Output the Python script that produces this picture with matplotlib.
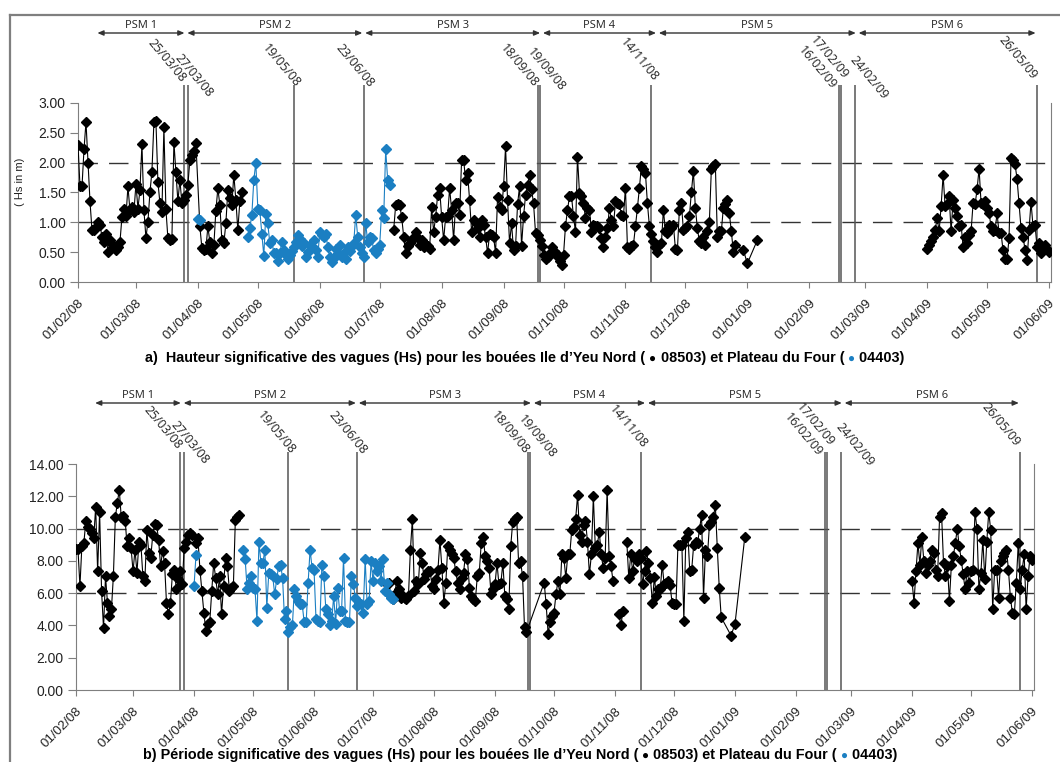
import matplotlib
matplotlib.use("Agg")
import matplotlib.pyplot as plt
import matplotlib.dates as mdates
from matplotlib.lines import Line2D
from matplotlib.offsetbox import TextArea, HPacker, AnchoredOffsetbox
import numpy as np
import pandas as pd

nan = np.nan

# ------------------------------------------------------------
# DATA : runs of daily values (start date, values); nan = break
# ------------------------------------------------------------

# Hs (m) - bouée Ile d'Yeu Nord 08503
hs_yeu = [
    ("2008-02-01", [2.30, 1.60, 1.60, 2.22, 2.68, 2.00, 1.35, 0.87, 0.87, 0.92,
                    1.00, 0.95, 0.76, 0.67, 0.81, 0.50, 0.70, 0.63, 0.59, 0.53,
                    0.58, 0.67, 1.09, 1.22, 1.10, 1.60, 1.20, 1.26, 1.18, 1.64,
                    1.23, 1.54, 2.31, 1.20, 0.74, 1.01, 1.50, 1.85, 2.68, 2.69,
                    1.68, 1.32, 1.18, 2.59, 1.22, 0.73, 0.70, 0.72, 2.34, 1.85,
                    1.35, 1.71, 1.32, 1.38, 1.46, 1.63, 2.05, 2.13, 2.19, 2.33]),
    ("2008-04-02", [0.93, 0.57, 0.53, 0.55, 0.93, 0.67, 0.48, 0.62, 1.19, 1.57,
                    1.29, 0.70, 0.65, 0.98, 1.54, 1.40, 1.29, 1.80, 1.37, 0.87,
                    1.35, 1.51, nan]),
    ("2008-07-08", [0.87, 1.29, 1.30, 1.29, 1.09, 0.76, 0.48, 0.60, 0.65, 0.70,
                    0.76, 0.84, 0.73, 0.62, 0.70, 0.59, 0.62, 0.60, 0.56, 1.26,
                    0.84, 1.09, 1.46, 1.57, 1.09, 0.70, 1.09, 1.10, 1.57, 1.21,
                    0.70, 1.32, 1.32, 1.12, 2.05, 2.05, 1.71, 1.82, 1.37, 0.84,
                    1.04, 0.98, 0.90, 0.76, 1.04, 0.96, 0.76, 0.48, 0.81, 0.79,
                    0.76, 0.48, 1.43, 1.26, 1.21, 1.60, 2.27, 1.37, 0.65, 0.98,
                    0.53, 0.60, 1.30, 1.60, 0.60, 1.10, 1.45, 1.62,
                    1.80, 1.55, 1.32, 0.82, 0.79, 0.70, 0.60, 0.45, 0.39, 0.42,
                    0.48, 0.59, 0.52, 0.45, 0.45, 0.36, 0.28,
                    0.45, 0.94, 1.20, 1.44, 1.44, 1.10, 0.84, 2.10,
                    1.49, 1.44, 1.32, 1.07, 1.24, 1.21, 0.84, 0.96, 0.93, 0.93,
                    0.90, 0.73, 0.59, 0.76, 0.90, 1.24, 1.04, 0.93, 1.35, 1.32,
                    1.30, 1.13, 1.10, 1.58,
                    0.59, 0.56, 0.60, 0.62, 0.93, 1.24, 1.58, 1.94, 1.89, 1.83,
                    1.32, 0.93, 0.80, 0.68, 0.58, 0.51, 0.62, 0.65, 1.21,
                    0.85, 0.82, 0.96, 0.90, 0.96, 0.56, 0.53, 1.21, 1.32, 0.87,
                    0.90, 0.93, 1.10, 1.50, 1.86,
                    1.24, 0.90, 0.68, 0.65, 0.76, 0.62, 0.85, 1.00, 1.89, 1.94,
                    1.97,
                    0.76, 0.85, 0.85, 1.24, 1.30, 1.38, 1.15, 0.85, 0.51, 0.62]),
    ("2008-12-30", [0.54]),
    ("2009-01-01", [0.31]),
    ("2009-01-06", [0.70, nan]),
    ("2009-04-01", [0.56, 0.62, 0.68, 0.76, 0.87, 1.07, 0.85, 1.27, 1.79, 1.27,
                    1.30, 1.44, 0.85, 1.38, 1.24, 1.10, 0.93, 0.96, 0.59, 0.76,
                    0.65, 0.79, 0.85, 1.32, 1.30, 1.55, 1.90, 1.32, 1.30, 1.35,
                    1.24, 1.15, 0.93, 0.85, 0.87, 1.15, 0.82, 0.82, 0.53, 0.39,
                    0.39, 0.73, 2.08, 2.05, 1.97, 1.73, 1.32, 0.90, 0.76, 0.54,
                    0.37, 0.87, 1.34, 0.93, 0.96, 0.59, 0.65, 0.48, 0.58, 0.62,
                    0.55, 0.50]),
]

# Hs (m) - bouée Plateau du Four 04403
hs_four = [
    ("2008-04-01", [1.06, 1.04, nan]),
    ("2008-04-26", [0.76, 0.90, 1.12, 1.71, 2.00, 1.23, 1.20, 0.81, 0.44, 1.14,
                    0.98, 0.65, 0.70, 0.48, 0.48, 0.36, 0.48, 0.67, 0.53, 0.45,
                    0.39, 0.45, 0.52, 0.59, 0.67, 0.79, 0.72, 0.60, 0.65, 0.42,
                    0.50, 0.62, 0.59, 0.70, 0.53, 0.42, 0.84, 0.78, 0.76, 0.81,
                    0.59, 0.42, 0.34, 0.40, 0.55, 0.48, 0.62, 0.42, 0.48, 0.39,
                    0.59, 0.52, 0.60, 0.65, 1.12, 0.76, 0.59, 0.48, 0.42, 0.98,
                    0.67, 0.76, 0.73, 0.53, 0.48, 0.55, 0.62, 1.20, 1.07, 2.22,
                    1.71, 1.63]),
]

# Tp (s) - bouée Ile d'Yeu Nord 08503
tp_yeu = [
    ("2008-02-01", [8.73, 8.73, 6.44, 8.94, 9.10, 10.5, 10.1, 10.0, 9.7, 9.4,
                    11.35, 7.36, 11.04, 6.13, 3.82, 7.05, 5.42, 4.6, 5.0, 7.05,
                    10.7, 11.6, 12.4, 10.7, 10.8, 10.5, 8.9, 9.4, 8.8, 7.36,
                    8.7, 7.26, 9.2, 9.0, 7.05, 6.75, 9.9, 8.5, 8.2, 9.6,
                    10.3, 10.2, 9.3, 7.67, 8.6, 7.9, 5.4, 4.7, 5.4, 7.16,
                    7.46, 6.24, 6.85, 7.36, 6.54, 8.8, 9.2, 9.6, 9.7, 9.6]),
    ("2008-04-02", [9.1, 9.4, 7.46, 6.13, 4.8, 3.68, 4.1, 4.2, 6.13, 7.87,
                    6.95, 5.93, 7.05, 4.7, 6.44, 8.2, 7.67, 6.13, 6.34, 6.44,
                    10.53, 10.7, 10.83, nan]),
    ("2008-07-08", [6.54, 6.65, 5.83, 5.63, 5.93, 6.75, 6.24, 5.73, 5.83, 5.73,
                    5.63, 5.83, 8.7, 10.6, 6.13, 6.75, 6.54, 8.5, 7.87, 6.85,
                    7.16, 7.36, 7.36, 6.44, 6.24, 6.85, 7.46, 9.3, 7.57, 5.42,
                    6.65, 8.9, 8.7, 8.4, 8.2, 7.36, 6.65, 6.24, 6.95, 7.26,
                    8.4, 8.1, 6.34, 5.83, 5.63, 5.52, 7.05, 7.26, 9.1, 9.5,
                    8.3, 7.97, 7.57, 5.93, 6.24, 6.54, 7.87, 6.54, 6.65, 7.87,
                    5.83, 5.63, 5.0, 8.9, 10.43, 10.6, 10.74, 7.87, 7.97, 7.05,
                    3.88, 3.58]),
    ("2008-09-26", [6.65, 5.3, 3.5, 4.2, 4.6, 4.8, 5.93, 6.75, 5.93, 8.4,
                    8.2, 6.95, 8.4, 8.4, 9.9, 10.1,
                    10.6, 12.1, 9.6, 9.2, 10.2, 10.5, 9.2, 7.16, 8.4, 12.0,
                    8.8, 9.0, 9.8, 8.4, 7.57, 8.2, 12.4, 8.3, 7.67, 6.75, nan]),
    ("2008-11-03", [4.7, 4.0, 4.9, nan]),
    ("2008-11-07", [9.2, 6.95, 8.4, 7.36, 8.2, 8.0, 8.4, 8.2, 6.54, 7.36,
                    8.6, 7.87, 6.95, 5.42, 7.0, 5.83, 6.24, 6.24,
                    7.77, 6.54, 6.65, 6.75, 6.5, 5.42, 5.35, 5.3, 9.0, 9.0,
                    9.0, 4.3, 9.4, 9.8, 7.36, 7.46, 9.0, 9.2, 9.1, 10.0,
                    10.84,
                    5.73, 8.7, 8.3, 10.2, 10.4, 10.7, 11.45, 8.8, 6.34, 4.5]),
    ("2008-12-30", [3.37]),
    ("2009-01-01", [4.1]),
    ("2009-01-06", [9.5, nan]),
    ("2009-04-01", [6.75, 5.42, 7.36, 9.1, 7.77, 9.5, 8.0, 7.26, 7.77, 7.97,
                    8.7, 8.5, 7.46, 7.05, 10.74, 10.94, 7.87, 7.05, 7.67, 5.52,
                    7.77, 8.3, 9.1, 10.0, 8.9, 8.08, 7.16, 6.24, 7.36, 6.65,
                    7.36, 7.46, 11.04, 10.0, 6.24, 7.26, 9.3, 6.85, 9.2, 11.04,
                    9.9, 5.0, 7.46, 7.46, 5.73, 7.97, 8.3, 8.5, 8.7, 7.46,
                    5.73, 4.8, 4.7, 6.65, 9.1, 6.24, 7.46, 8.4, 5.0, 7.05,
                    8.3, 8.08]),
]

# Tp (s) - bouée Plateau du Four 04403
tp_four = [
    ("2008-04-01", [6.44, 8.35, nan]),
    ("2008-04-26", [8.7, 8.1, 6.24, 6.65, 7.05, 6.34, 6.24, 4.3, 9.2, 7.87,
                    7.87, 8.7, 5.1, 7.26, 7.16, 7.05, 5.93, 6.85, 7.67, 7.77,
                    6.95, 4.4, 4.9, 3.58, 3.89, 4.0, 6.24, 5.83, 5.5, 5.3,
                    5.3, 4.2, 4.2, 6.65, 8.7, 7.57, 7.46, 4.4, 4.3, 4.2,
                    7.77, 7.05, 5.0, 4.7, 4.0, 4.3, 5.83, 4.1, 6.34, 4.9,
                    4.9, 8.2, 4.3, 4.2, 4.2, 7.05, 6.54, 5.73, 5.2, 5.4,
                    5.3, 4.8, 8.1, 5.3, 5.5, 7.97, 6.75, 7.87, 7.36, 7.67,
                    6.75, 8.1, 6.13, 6.65, 5.93, 5.73, 5.63]),
]

psm_names = ["PSM 1", "PSM 2", "PSM 3", "PSM 4", "PSM 5", "PSM 6"]
psm_bounds = ["2008-02-10", "2008-03-26", "2008-06-23", "2008-09-20",
              "2008-11-17", "2009-02-25", "2009-05-26"]

event_dates = ["2008-03-25", "2008-03-27", "2008-05-19", "2008-06-23",
               "2008-09-18", "2008-09-19", "2008-11-14", "2009-02-16",
               "2009-02-17", "2009-02-24", "2009-05-26"]
event_labels = ["25/03/08", "27/03/08", "19/05/08", "23/06/08", "18/09/08",
                "19/09/08", "14/11/08", "16/02/09", "17/02/09", "24/02/09",
                "26/05/09"]

hs_guides = [1.0, 2.0]
tp_guides = [6.0, 10.0]

caption_a = ["a)  Hauteur significative des vagues (Hs) pour les bouées Ile d’Yeu Nord ( ",
             "●", " 08503) et Plateau du Four ( ", "●", " 04403)"]
caption_b = ["b) Période significative des vagues (Hs) pour les bouées Ile d’Yeu Nord ( ",
             "●", " 08503) et Plateau du Four ( ", "●", " 04403)"]

# ------------------------------------------------------------
# STYLE
# ------------------------------------------------------------
W, H = 1060, 762
BLUE = "#1b7fc2"
GREY = "#7f7f7f"
# label end offsets from the top of each event line, in pixels (right, down)
event_nudge = [(-3, -2), (20, 13), (2, 3), (5, 3), (-4, 3), (21, 7),
               (2, -3), (-8, 5), (2, -5), (28, 15), (-5, -5)]
HEAD_FONT = ["Open Sans", "DejaVu Sans"]
CAP_FONT = ["Liberation Sans", "DejaVu Sans"]
plt.rcParams["font.family"] = ["Liberation Sans", "DejaVu Sans"]


def expand(runs):
    xs, ys = [], []
    for start, vals in runs:
        xs.extend(pd.date_range(start, periods=len(vals), freq="D"))
        ys.extend(vals)
    return xs, ys


def px_axes(left, right, top, bottom):
    return [left / W, 1 - bottom / H, (right - left) / W, (bottom - top) / H]


def draw_panel(ax, series, ymax, ytop, yticks, guides, head_y):
    for runs, col in series:
        xs, ys = expand(runs)
        ax.plot(xs, ys, color=col, lw=0.8, marker="D", ms=4.8,
                mfc=col, mec=col, zorder=3)

    ax.set_xlim(pd.Timestamp("2008-02-01"), pd.Timestamp("2009-06-02"))
    ax.set_ylim(0, ytop)
    ax.set_yticks(yticks)
    ax.yaxis.set_major_formatter(matplotlib.ticker.FormatStrFormatter("%.2f"))
    ax.xaxis.set_major_locator(mdates.MonthLocator(bymonthday=1))
    ax.xaxis.set_major_formatter(mdates.DateFormatter("%d/%m/%y"))

    ax.spines["top"].set_visible(False)
    for side in ["left", "right"]:
        ax.spines[side].set_bounds(0, ymax)
        ax.spines[side].set_color(GREY)
    ax.spines["bottom"].set_color(GREY)
    ax.set_facecolor("none")

    ax.tick_params(axis="y", length=6, color=GREY, labelsize=10, pad=3,
                   labelcolor="#222222")
    ax.tick_params(axis="x", length=4, color=GREY, labelsize=9.5, pad=7,
                   labelcolor="#222222")
    for lbl in ax.get_xticklabels():
        lbl.set_rotation(45)
        lbl.set_ha("right")
        lbl.set_rotation_mode("anchor")

    for g in guides:
        ax.axhline(g, color="#333333", lw=1.0, dashes=(14, 8), zorder=1)

    for d, lab, (dx, dy) in zip(event_dates, event_labels, event_nudge):
        ax.axvline(pd.Timestamp(d), color="#555555", lw=1.1, zorder=2)
        ax.annotate(lab, xy=(pd.Timestamp(d), 1), xycoords=("data", "axes fraction"),
                    xytext=(dx * 0.72, -dy * 0.72), textcoords="offset points",
                    rotation=-50, rotation_mode="anchor", ha="right", va="baseline",
                    fontsize=9, family=HEAD_FONT, color="#222222",
                    annotation_clip=False)

    # PSM periods with double arrows
    bounds = [pd.Timestamp(b) for b in psm_bounds]
    for i, name in enumerate(psm_names):
        a, b = bounds[i], bounds[i + 1]
        ax.annotate("", xy=(b, H - head_y), xytext=(a, H - head_y),
                    xycoords=("data", "figure pixels"),
                    textcoords=("data", "figure pixels"),
                    arrowprops=dict(arrowstyle="<|-|>,head_length=0.35,head_width=0.15",
                                    lw=1.0, color="#333333", shrinkA=1, shrinkB=1),
                    annotation_clip=False)
        ax.annotate(name, xy=(a + (b - a) / 2, H - head_y + 8),
                    xycoords=("data", "figure pixels"), ha="center", va="center",
                    fontsize=8, family=HEAD_FONT, color="#222222",
                    annotation_clip=False)


def caption(fig, parts, cx, cy):
    cols = ["black", "black", "black", BLUE, "black"]
    sizes = [10.4, 8.5, 10.4, 8.5, 10.4]
    boxes = [TextArea(p, textprops=dict(color=c, fontsize=s, fontweight="bold",
                                        family=CAP_FONT))
             for p, c, s in zip(parts, cols, sizes)]
    pack = HPacker(children=boxes, align="baseline", pad=0, sep=0)
    anch = AnchoredOffsetbox(loc="center", child=pack, pad=0, borderpad=0,
                             frameon=False, bbox_to_anchor=(cx / W, 1 - cy / H),
                             bbox_transform=fig.transFigure)
    fig.add_artist(anch)


fig = plt.figure(figsize=(W / 100, H / 100), dpi=100)

ax_a = fig.add_axes(px_axes(78, 1051, 85, 282))
draw_panel(ax_a, [(hs_yeu, "black"), (hs_four, BLUE)], 3.0, 3.30,
           np.arange(0, 3.01, 0.5), hs_guides, 33)
fig.text(20 / W, 1 - 182 / H, "( Hs in m)", rotation=90, ha="center", va="center",
         fontsize=8, color="#222222")

ax_b = fig.add_axes(px_axes(76, 1034, 452, 690))
draw_panel(ax_b, [(tp_yeu, "black"), (tp_four, BLUE)], 14.0, 14.75,
           np.arange(0, 14.01, 2), tp_guides, 403)

caption(fig, caption_a, 525, 358)
caption(fig, caption_b, 520, 755)

# outer frame of the figure
fig.add_artist(Line2D([10 / W, 1], [1 - 15 / H] * 2, transform=fig.transFigure,
                      color=GREY, lw=1.6))
fig.add_artist(Line2D([10 / W] * 2, [0, 1 - 15 / H], transform=fig.transFigure,
                      color=GREY, lw=1.6))

fig.savefig("out.png", dpi=100)
